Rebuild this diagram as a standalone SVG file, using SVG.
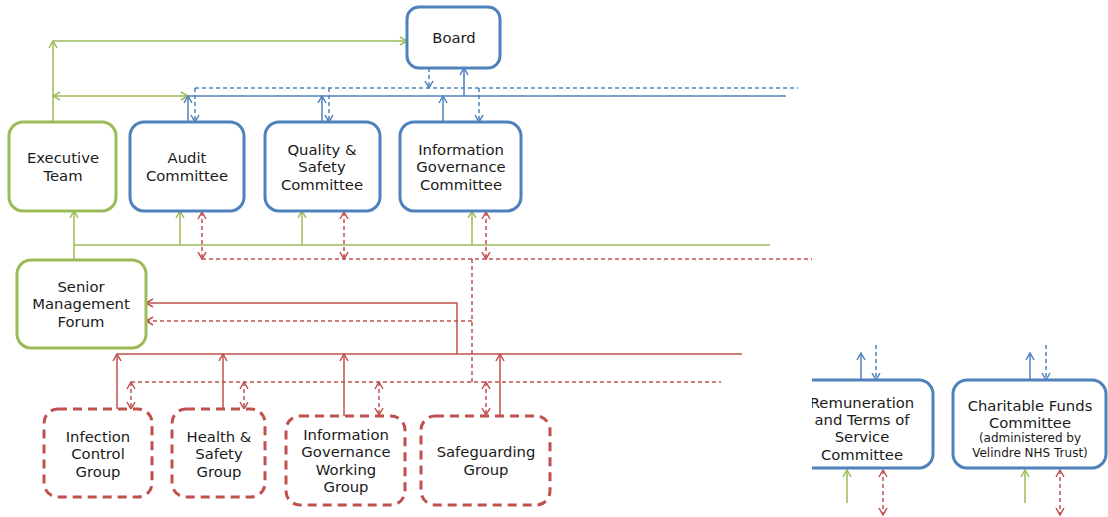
<svg xmlns="http://www.w3.org/2000/svg" width="1108" height="517" viewBox="0 0 1108 517">
<style>
  .box { fill: #ffffff; stroke-width: 3; }
  .blue { stroke: #4f81bd; }
  .green { stroke: #9bbb59; }
  .red { stroke: #c0504d; }
  .grp { fill: #ffffff; stroke: #c0504d; stroke-width: 3; stroke-dasharray: 9 6; }
  .ln { fill: none; stroke-width: 1.5; }
  .dash { stroke-dasharray: 4 3; }
  text { font-family: "DejaVu Sans", Verdana, sans-serif; font-size: 14.8px; fill: #1a1a1a; text-anchor: middle; }
  .small { font-size: 12px; }
</style>
<defs>
  <marker id="ag" viewBox="0 0 10 10" refX="9" refY="5" markerWidth="10" markerHeight="10" markerUnits="userSpaceOnUse" orient="auto-start-reverse">
    <path d="M2,1 L9,5 L2,9" fill="none" stroke="#9bbb59" stroke-width="1.5"/>
  </marker>
  <marker id="ab" viewBox="0 0 10 10" refX="9" refY="5" markerWidth="10" markerHeight="10" markerUnits="userSpaceOnUse" orient="auto-start-reverse">
    <path d="M2,1 L9,5 L2,9" fill="none" stroke="#4f81bd" stroke-width="1.5"/>
  </marker>
  <marker id="ar" viewBox="0 0 10 10" refX="9" refY="5" markerWidth="10" markerHeight="10" markerUnits="userSpaceOnUse" orient="auto-start-reverse">
    <path d="M2,1 L9,5 L2,9" fill="none" stroke="#c0504d" stroke-width="1.5"/>
  </marker>
  <clipPath id="clipRem"><rect x="812" y="330" width="130" height="187"/></clipPath>
</defs>

<g id="connectors">
  <!-- green top -->
  <line class="ln green" x1="53" y1="122" x2="53" y2="41" marker-end="url(#ag)"/>
  <line class="ln green" x1="53" y1="41" x2="407" y2="41" marker-end="url(#ag)"/>
  <line class="ln green" x1="53" y1="96" x2="188" y2="96" marker-start="url(#ag)" marker-end="url(#ag)"/>
  <!-- blue bus -->
  <line class="ln blue" x1="188" y1="96" x2="786" y2="96"/>
  <line class="ln blue dash" x1="195" y1="88" x2="798" y2="88"/>
  <line class="ln blue dash" x1="429" y1="68" x2="429" y2="88" marker-end="url(#ab)"/>
  <line class="ln blue" x1="464" y1="96" x2="464" y2="68" marker-end="url(#ab)"/>
  <line class="ln blue" x1="188" y1="122" x2="188" y2="96" marker-end="url(#ab)"/>
  <line class="ln blue dash" x1="195" y1="88" x2="195" y2="122" marker-end="url(#ab)"/>
  <line class="ln blue" x1="322" y1="122" x2="322" y2="96" marker-end="url(#ab)"/>
  <line class="ln blue dash" x1="329" y1="88" x2="329" y2="122" marker-end="url(#ab)"/>
  <line class="ln blue" x1="443" y1="122" x2="443" y2="96" marker-end="url(#ab)"/>
  <line class="ln blue dash" x1="479" y1="88" x2="479" y2="122" marker-end="url(#ab)"/>
  <!-- green middle bus -->
  <line class="ln green" x1="74" y1="245" x2="770" y2="245"/>
  <line class="ln green" x1="74" y1="260" x2="74" y2="211" marker-end="url(#ag)"/>
  <line class="ln green" x1="180" y1="245" x2="180" y2="211" marker-end="url(#ag)"/>
  <line class="ln green" x1="302" y1="245" x2="302" y2="211" marker-end="url(#ag)"/>
  <line class="ln green" x1="472" y1="245" x2="472" y2="211" marker-end="url(#ag)"/>
  <!-- red dashed upper bus -->
  <line class="ln red dash" x1="202" y1="259" x2="812" y2="259"/>
  <line class="ln red dash" x1="202" y1="212" x2="202" y2="259" marker-start="url(#ar)" marker-end="url(#ar)"/>
  <line class="ln red dash" x1="344" y1="212" x2="344" y2="259" marker-start="url(#ar)" marker-end="url(#ar)"/>
  <line class="ln red dash" x1="486" y1="212" x2="486" y2="259" marker-start="url(#ar)" marker-end="url(#ar)"/>
  <line class="ln red dash" x1="472" y1="259" x2="472" y2="382"/>
  <line class="ln red dash" x1="472" y1="321" x2="146" y2="321" marker-end="url(#ar)"/>
  <!-- red solid -->
  <polyline class="ln red" points="457,354 457,303 146,303" marker-end="url(#ar)"/>
  <line class="ln red" x1="117" y1="354" x2="742" y2="354"/>
  <line class="ln red dash" x1="131" y1="382" x2="721" y2="382"/>
  <line class="ln red" x1="117" y1="409" x2="117" y2="354" marker-end="url(#ar)"/>
  <line class="ln red" x1="223" y1="409" x2="223" y2="354" marker-end="url(#ar)"/>
  <line class="ln red" x1="344" y1="416" x2="344" y2="354" marker-end="url(#ar)"/>
  <line class="ln red" x1="500" y1="416" x2="500" y2="354" marker-end="url(#ar)"/>
  <line class="ln red dash" x1="131" y1="382" x2="131" y2="409" marker-start="url(#ar)" marker-end="url(#ar)"/>
  <line class="ln red dash" x1="244" y1="382" x2="244" y2="409" marker-start="url(#ar)" marker-end="url(#ar)"/>
  <line class="ln red dash" x1="379" y1="382" x2="379" y2="415" marker-start="url(#ar)" marker-end="url(#ar)"/>
  <line class="ln red dash" x1="486" y1="382" x2="486" y2="415" marker-start="url(#ar)" marker-end="url(#ar)"/>
  <!-- right side -->
  <line class="ln blue" x1="861" y1="380" x2="861" y2="353" marker-end="url(#ab)"/>
  <line class="ln blue dash" x1="876" y1="345" x2="876" y2="380" marker-end="url(#ab)"/>
  <line class="ln blue" x1="1030" y1="380" x2="1030" y2="353" marker-end="url(#ab)"/>
  <line class="ln blue dash" x1="1046" y1="345" x2="1046" y2="380" marker-end="url(#ab)"/>
  <line class="ln green" x1="847" y1="503" x2="847" y2="470" marker-end="url(#ag)"/>
  <line class="ln red dash" x1="883" y1="470" x2="883" y2="515" marker-start="url(#ar)" marker-end="url(#ar)"/>
  <line class="ln green" x1="1025" y1="503" x2="1025" y2="470" marker-end="url(#ag)"/>
  <line class="ln red dash" x1="1060" y1="470" x2="1060" y2="515" marker-start="url(#ar)" marker-end="url(#ar)"/>
</g>

<g id="board">
  <rect class="box blue" x="407" y="7" width="93" height="61" rx="12"/>
  <text x="454" y="43">Board</text>
</g>
<g id="executive-team">
  <rect class="box green" x="9" y="122" width="107" height="89" rx="14"/>
  <text x="63" y="163">Executive</text>
  <text x="63" y="181">Team</text>
</g>
<g id="audit-committee">
  <rect class="box blue" x="130" y="122" width="114" height="89" rx="14"/>
  <text x="187" y="163">Audit</text>
  <text x="187" y="181">Committee</text>
</g>
<g id="quality-safety-committee">
  <rect class="box blue" x="265" y="122" width="115" height="89" rx="14"/>
  <text x="322" y="155">Quality &amp;</text>
  <text x="322" y="172">Safety</text>
  <text x="322" y="190">Committee</text>
</g>
<g id="ig-committee">
  <rect class="box blue" x="400" y="122" width="121" height="89" rx="14"/>
  <text x="461" y="155">Information</text>
  <text x="461" y="172">Governance</text>
  <text x="461" y="190">Committee</text>
</g>
<g id="senior-management-forum">
  <rect class="box green" x="17" y="260" width="129" height="88" rx="14"/>
  <text x="81" y="292">Senior</text>
  <text x="81" y="309">Management</text>
  <text x="81" y="327">Forum</text>
</g>
<g id="infection-control-group">
  <rect class="grp" x="44" y="409" width="108" height="88" rx="14"/>
  <text x="98" y="442">Infection</text>
  <text x="98" y="459">Control</text>
  <text x="98" y="477">Group</text>
</g>
<g id="health-safety-group">
  <rect class="grp" x="172" y="409" width="93" height="88" rx="14"/>
  <text x="219" y="442">Health &amp;</text>
  <text x="219" y="459">Safety</text>
  <text x="219" y="477">Group</text>
</g>
<g id="ig-working-group">
  <rect class="grp" x="286" y="416" width="119" height="89" rx="14"/>
  <text x="346" y="440">Information</text>
  <text x="346" y="457">Governance</text>
  <text x="346" y="475">Working</text>
  <text x="346" y="492">Group</text>
</g>
<g id="safeguarding-group">
  <rect class="grp" x="421" y="416" width="129" height="89" rx="14"/>
  <text x="486" y="457">Safeguarding</text>
  <text x="486" y="475">Group</text>
</g>
<g id="remuneration-committee" clip-path="url(#clipRem)">
  <rect class="box blue" x="790" y="380" width="143" height="88" rx="14"/>
  <text x="862" y="408">Remuneration</text>
  <text x="862" y="425">and Terms of</text>
  <text x="862" y="442">Service</text>
  <text x="862" y="460">Committee</text>
</g>
<g id="charitable-funds-committee">
  <rect class="box blue" x="953" y="380" width="153" height="88" rx="14"/>
  <text x="1030" y="411">Charitable Funds</text>
  <text x="1030" y="428">Committee</text>
  <text class="small" x="1030" y="442">(administered by</text>
  <text class="small" x="1030" y="457">Velindre NHS Trust)</text>
</g>
</svg>
